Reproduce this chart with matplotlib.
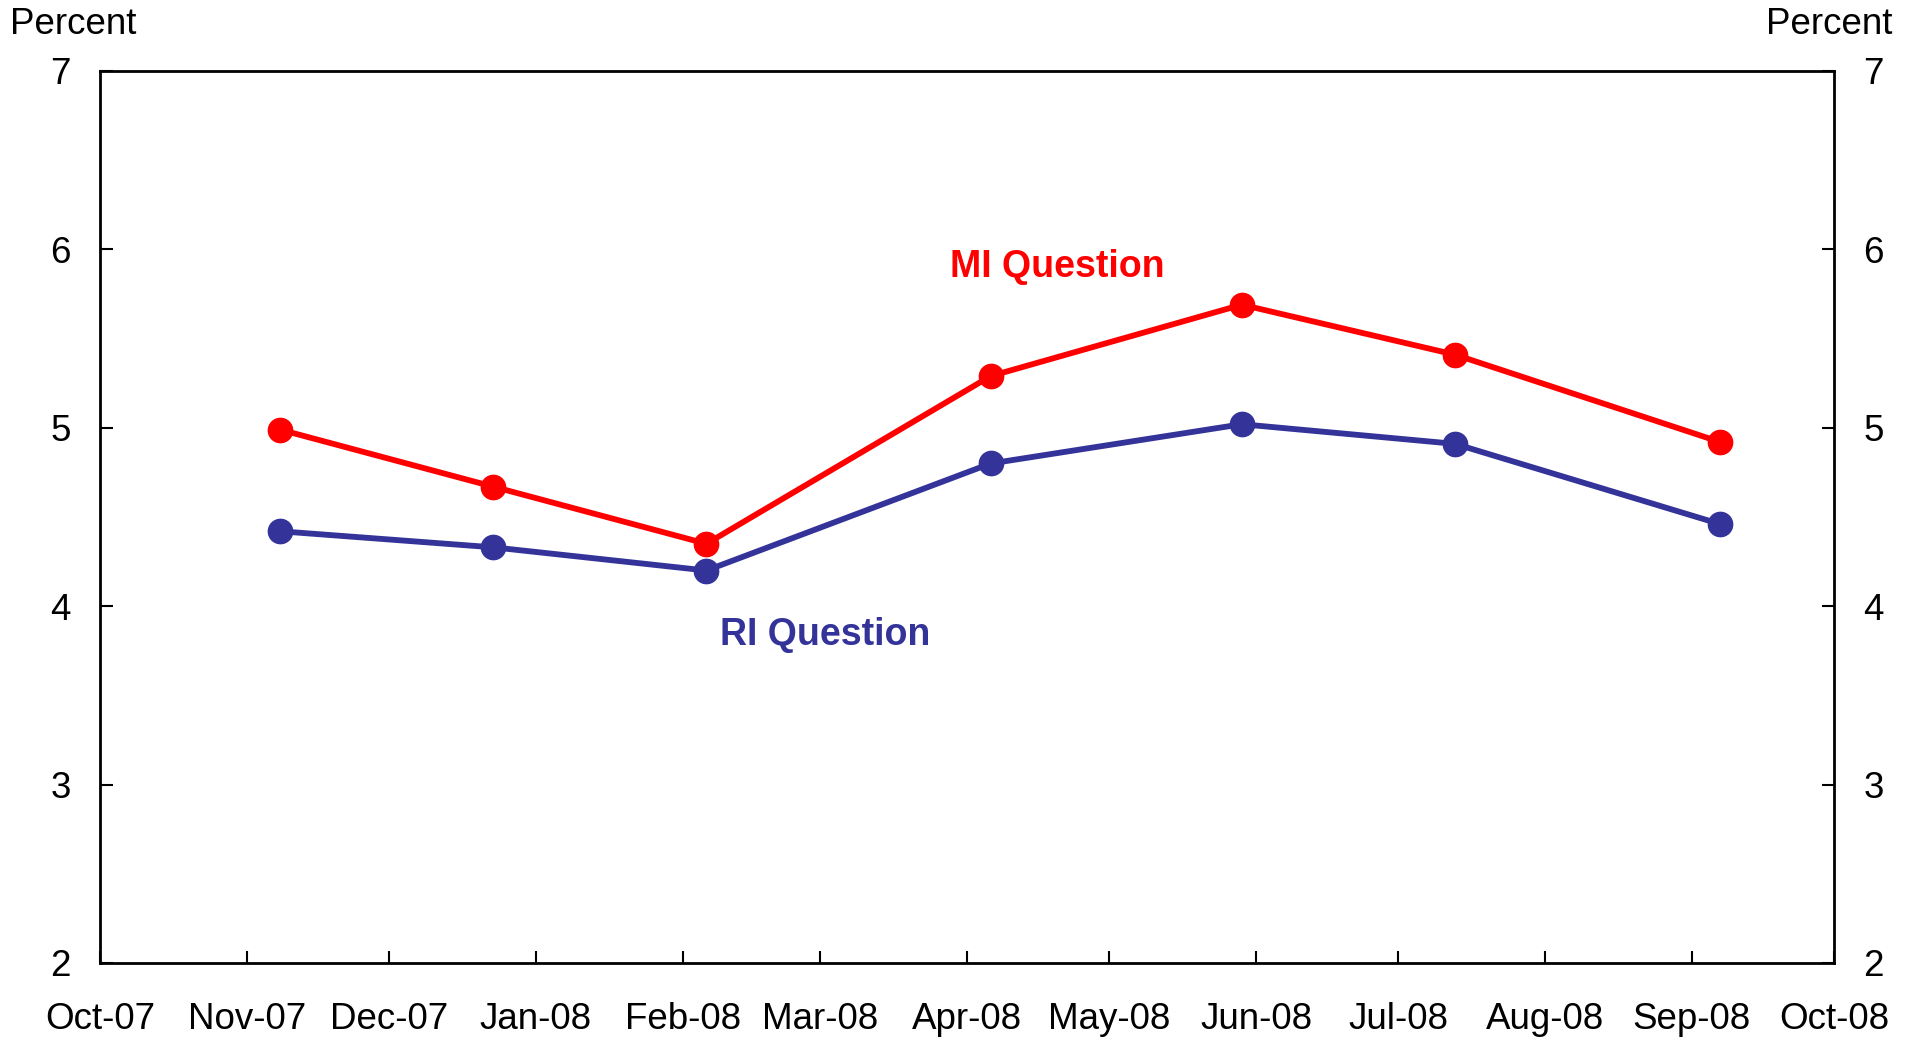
import matplotlib
matplotlib.use("Agg")
import matplotlib.pyplot as plt
import matplotlib.dates as mdates
import numpy as np
import datetime as dt

plt.rcParams['font.family'] = ['Liberation Sans', 'DejaVu Sans']

dates = ["2007-11-08", "2007-12-23", "2008-02-06", "2008-04-06",
         "2008-05-29", "2008-07-13", "2008-09-07"]
mi_values = [4.99, 4.67, 4.35, 5.29, 5.69, 5.41, 4.92]
ri_values = [4.42, 4.33, 4.20, 4.80, 5.02, 4.91, 4.46]
month_ticks = ["2007-10-01", "2007-11-01", "2007-12-01", "2008-01-01",
               "2008-02-01", "2008-03-01", "2008-04-01", "2008-05-01",
               "2008-06-01", "2008-07-01", "2008-08-01", "2008-09-01",
               "2008-10-01"]
y_ticks = [2, 3, 4, 5, 6, 7]

x = [dt.datetime.strptime(d, "%Y-%m-%d") for d in dates]
xt = [dt.datetime.strptime(d, "%Y-%m-%d") for d in month_ticks]

fig = plt.figure(figsize=(19.16, 10.42), dpi=100)
ax = fig.add_axes([100/1916, 1-963/1042, (1834-100)/1916, (963-71)/1042])

red = "#FF0000"
blue = "#333399"
ax.plot(x, ri_values, color=blue, lw=4.2, marker='o', ms=17.5, zorder=3)
ax.plot(x, mi_values, color=red, lw=4.2, marker='o', ms=17.5, zorder=4)

ax.set_xlim(xt[0], xt[-1])
ax.set_ylim(2, 7)
ax.set_xticks(xt)
ax.xaxis.set_major_formatter(mdates.DateFormatter("%b-%y"))
ax.set_yticks(y_ticks)
ax.tick_params(axis='x', direction='in', length=9, width=1.5, labelsize=26.5, pad=28)
ax.tick_params(axis='y', direction='in', length=9, width=1.5, labelsize=26.5, pad=21,
               left=True, right=True, labelleft=True, labelright=True)
for s in ax.spines.values():
    s.set_linewidth(2)

ax.text(mdates.date2num(dt.datetime(2008, 4, 20)), 5.90, "MI Question", color=red,
        fontsize=27, fontweight='bold', ha='center', va='center')
ax.text(mdates.date2num(dt.datetime(2008, 3, 2)), 3.84, "RI Question", color=blue,
        fontsize=27, fontweight='bold', ha='center', va='center')

fig.text(10/1916, 1-24/1042, "Percent", fontsize=26.5, ha='left', va='center')
fig.text(1892/1916, 1-24/1042, "Percent", fontsize=26.5, ha='right', va='center')

fig.savefig("out.png", dpi=100)
